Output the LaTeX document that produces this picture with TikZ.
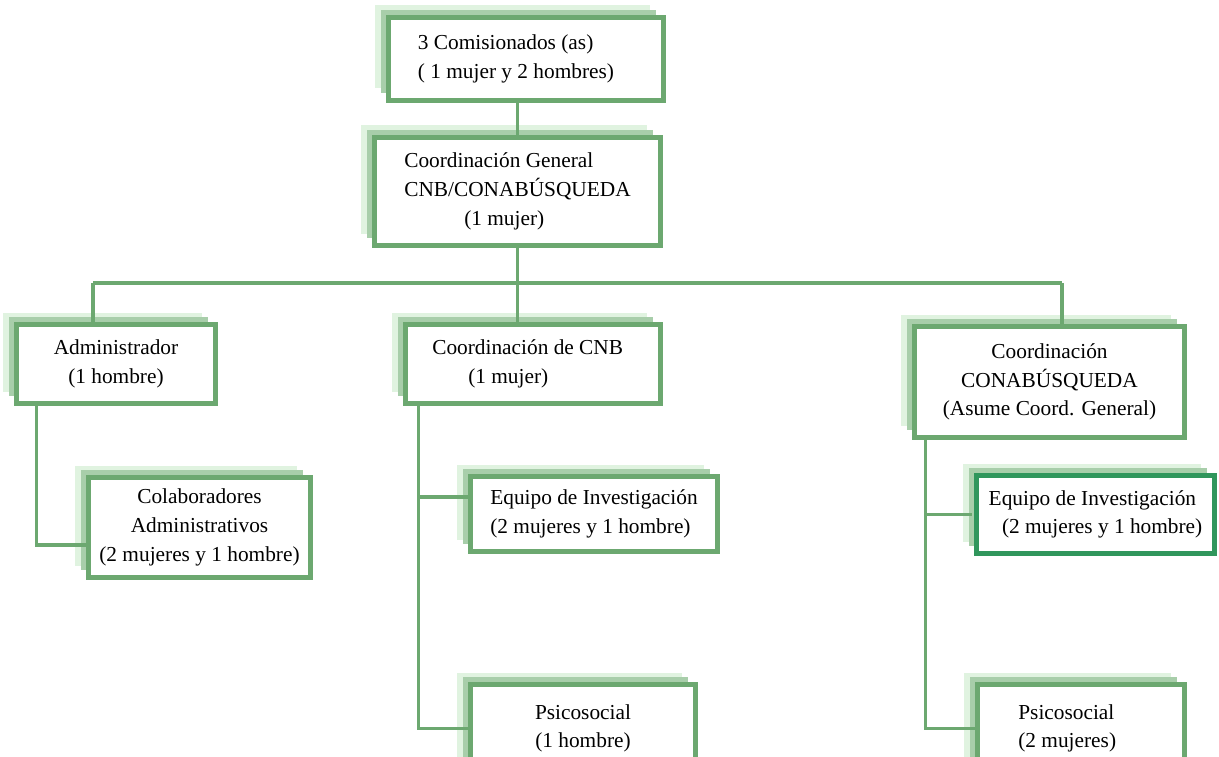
\documentclass[tikz,border=0pt]{standalone}
\usepackage{fontspec}
\setmainfont{Liberation Serif}
\usetikzlibrary{positioning, shadows}
\definecolor{boxgreen}{RGB}{108,168,112}
\definecolor{darkgreen}{RGB}{48,150,92}
\definecolor{shadelight}{RGB}{224,243,224}
\definecolor{shadedark}{RGB}{168,206,170}
\newcommand{\upx}{0.75pt}

\begin{document}
\begin{tikzpicture}[
    x=0.75pt, y=-0.75pt,
    font=\fontsize{16}{21.5}\selectfont,
    box/.style={draw=boxgreen, line width=5*\upx, fill=white, rectangle, align=center, inner sep=0pt,
        general shadow={fill=shadelight, shadow xshift=-13.5*\upx, shadow yshift=12*\upx},
        general shadow={fill=shadedark, shadow xshift=-7.5*\upx, shadow yshift=7.5*\upx}},
    link/.style={draw=boxgreen, line width=3.3*\upx}
]
    \useasboundingbox (0,0) rectangle (1219,756);

    \node[box, align=left, minimum width=275*\upx, minimum height=83*\upx] (comis) at (526,59)
        {3 Comisionados (as)\\( 1 mujer y 2 hombres)\hspace*{15pt}};
    \node[box, align=left, minimum width=286*\upx, minimum height=108*\upx] (coordgen) at (517.5,191.5)
        {Coordinación General\\CNB/CONABÚSQUEDA\\\hspace*{45pt}(1 mujer)};

    \node[box, minimum width=199*\upx, minimum height=79*\upx] (admin) at (116,364)
        {Administrador\\(1 hombre)};
    \node[box, align=left, minimum width=255*\upx, minimum height=79*\upx] (coordcnb) at (533,364)
        {Coordinación de CNB\hspace*{8pt}\\\hspace*{27pt}(1 mujer)};
    \node[box, minimum width=270*\upx, minimum height=111*\upx] (coordconab) at (1049.5,382)
        {Coordinación\\CONABÚSQUEDA\\(Asume Coord. General)};

    \node[box, minimum width=222*\upx, minimum height=100*\upx] (colab) at (199.5,527.5)
        {Colaboradores\\Administrativos\\(2 mujeres y 1 hombre)};
    \node[box, align=left, minimum width=247*\upx, minimum height=75*\upx] (eqcnb) at (594,514)
        {Equipo de Investigación\\(2 mujeres y 1 hombre)};
    \node[box, draw=darkgreen, align=left, minimum width=238*\upx, minimum height=78*\upx] (eqconab) at (1095.5,514.5)
        {Equipo de Investigación\\\hspace*{10pt}(2 mujeres y 1 hombre)};
    \node[box, minimum width=225*\upx, minimum height=88*\upx] (psicnb) at (583,728.5)
        {Psicosocial\\(1 hombre)};
    \node[box, align=left, minimum width=207*\upx, minimum height=88*\upx] (psiconab) at (1081,728.5)
        {Psicosocial\hspace*{22pt}\\(2 mujeres)};

    % lineas del organigrama
    \coordinate (bus) at (517.5,283);
    \coordinate (busL) at (93,283);
    \coordinate (busR) at (1062,283);

    \draw[link] (coordgen.north) -- (coordgen.north |- comis.south);
    \draw[link] (coordgen.south) -- (bus);
    \draw[link] (busL) -- (busR);
    \draw[link] (busL) -- (busL |- admin.north);
    \draw[link] (bus) -- (bus |- coordcnb.north);
    \draw[link] (busR) -- (busR |- coordconab.north);

    \draw[link] ([xshift=22.5*\upx]admin.south west) |- ([yshift=-17.5*\upx]colab.west);
    \draw[link] ([xshift=15.5*\upx]coordcnb.south west) |- ([yshift=17*\upx]eqcnb.west);
    \draw[link] ([xshift=15.5*\upx]coordcnb.south west) |- (psicnb.west);
    \draw[link, shorten >=2.5*\upx] ([xshift=13.5*\upx]coordconab.south west) |- (eqconab.west);
    \draw[link] ([xshift=13.5*\upx]coordconab.south west) |- (psiconab.west);
\end{tikzpicture}
\end{document}
